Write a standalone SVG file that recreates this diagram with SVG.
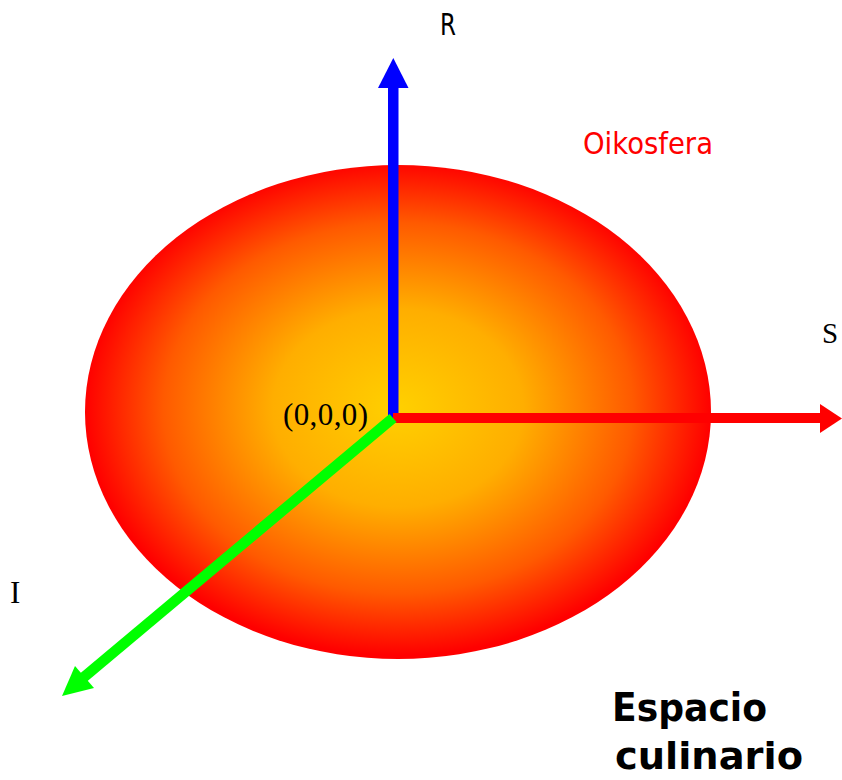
<svg xmlns="http://www.w3.org/2000/svg" width="842" height="780" viewBox="0 0 842 780">
<style>
.serif{font-family:"Liberation Serif","Times New Roman",serif;fill:#000}
.sans{font-family:"DejaVu Sans",Verdana,sans-serif}
</style>
<defs>
<radialGradient id="g" cx="398" cy="408" r="313" gradientUnits="userSpaceOnUse" gradientTransform="translate(398 408) scale(1 0.79) translate(-398 -408)">
<stop offset="0" stop-color="#FFD000"/>
<stop offset="0.4" stop-color="#FFAE00"/>
<stop offset="0.75" stop-color="#FF5A00"/>
<stop offset="1" stop-color="#FF0000"/>
</radialGradient>
</defs>
<rect width="842" height="780" fill="#fff"/>
<g id="oikosfera">
<ellipse cx="398" cy="412" rx="313" ry="247" fill="url(#g)"/>
</g>
<g id="connectors">
<g id="axis-R" fill="#0000FF">
<rect x="388" y="86" width="10.5" height="332"/>
<polygon points="393.3,58 378,88 408.5,88"/>
</g>
<g id="axis-S" fill="#FF0000">
<rect x="393" y="413" width="430" height="10"/>
<polygon points="820,404 842,418.5 820,433"/>
</g>
<g id="axis-I" fill="#00FF00">
<polygon points="389.5,414 396.5,422 84,684 77,676"/>
<polygon points="62,696 75,666 94,688"/>
</g>
</g>
<g id="labels">
<text class="sans" x="440" y="35" font-size="31" fill="#000" textLength="16" lengthAdjust="spacingAndGlyphs">R</text>
<text class="sans" x="583" y="154" font-size="30" fill="#FF0000" textLength="130" lengthAdjust="spacingAndGlyphs">Oikosfera</text>
<text class="serif" x="822" y="343" font-size="29">S</text>
<text class="serif" x="10" y="603" font-size="31">I</text>
<text class="serif" x="283" y="425" font-size="31" textLength="85">(0,0,0)</text>
<text class="sans" x="612" y="721" font-size="39" font-weight="bold" fill="#000" textLength="155" lengthAdjust="spacingAndGlyphs">Espacio</text>
<text class="sans" x="615" y="769" font-size="38" font-weight="bold" fill="#000" textLength="188" lengthAdjust="spacingAndGlyphs">culinario</text>
</g>
</svg>
